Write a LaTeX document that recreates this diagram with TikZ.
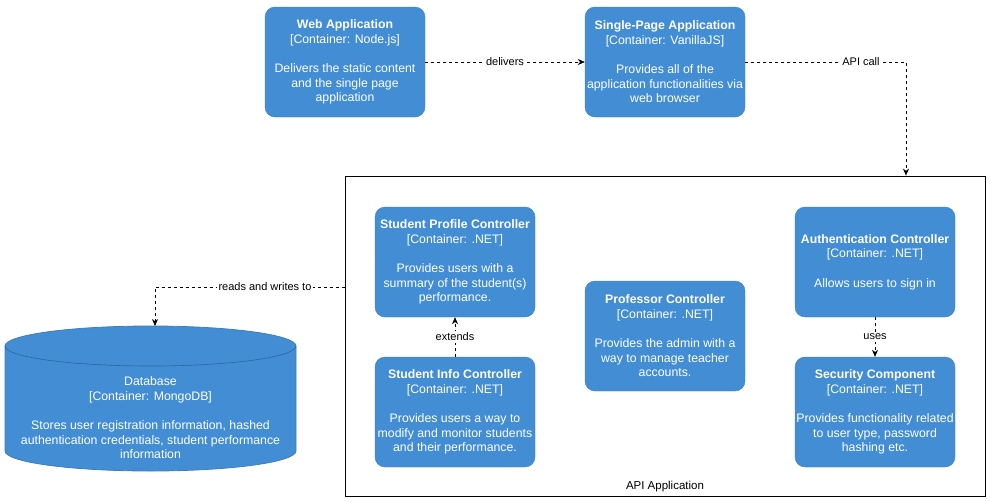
\documentclass[tikz,border=0pt]{standalone}
\usepackage{fontspec}
\setmainfont{Liberation Sans}
\usepackage{tikz}
\usetikzlibrary{arrows.meta}

\definecolor{c4blue}{HTML}{438DD5}
\definecolor{c4edge}{HTML}{3C7FC0}

\tikzset{
  cbox/.style={rectangle, rounded corners=10pt, fill=c4blue, draw=c4edge, text=white,
    align=center, minimum width=160pt, minimum height=110pt, inner sep=0pt,
    font=\fontsize{12.3}{14.6}\selectfont},
  rel/.style={black, line width=0.7pt, dash pattern=on 3pt off 3pt, -{Stealth[length=7pt,width=6pt]}},
  rellabel/.style={fill=white, inner sep=1.5pt, text=black, font=\fontsize{11}{13}\selectfont},
}

\begin{document}
\begin{tikzpicture}[x=1pt,y=-1pt]
\useasboundingbox (0,0) rectangle (990,501);

\node[draw=black, line width=0.8pt, minimum width=640pt, minimum height=320pt, inner sep=0pt] (api) at (665,336) {};
\node[above=1pt, font=\fontsize{11.5}{14}\selectfont] (apilabel) at (api.south) {API Application};

\node[cbox] (webapp) at (345,62) {\textbf{Web Application}\\{[Container: Node.js]}\\[14.6pt]Delivers the static content\\and the single page\\application};
\node[cbox] (spa) at (665,62) {\textbf{Single-Page Application}\\{[Container: VanillaJS]}\\[14.6pt]Provides all of the\\application functionalities via\\web browser};

\node[cbox] (profile) at (455,262) {\textbf{Student Profile Controller}\\{[Container: .NET]}\\[14.6pt]Provides users with a\\summary of the student(s)\\performance.};
\node[cbox] (info) at (455,412) {\textbf{Student Info Controller}\\{[Container: .NET]}\\[14.6pt]Provides users a way to\\modify and monitor students\\and their performance.};
\node[cbox] (professor) at (665,336) {\textbf{Professor Controller}\\{[Container: .NET]}\\[14.6pt]Provides the admin with a\\way to manage teacher\\accounts.};
\node[cbox] (auth) at (875,262) {\textbf{Authentication Controller}\\{[Container: .NET]}\\[14.6pt]Allows users to sign in};
\node[cbox] (security) at (875,412) {\textbf{Security Component}\\{[Container: .NET]}\\[14.6pt]Provides functionality related\\to user type, password\\hashing etc.};

\path[fill=c4blue, draw=c4edge, line width=0.8pt] (5,346) -- (5,451)
  arc[start angle=180, end angle=360, x radius=145.5pt, y radius=20pt] -- (296,346)
  arc[start angle=0, end angle=180, x radius=145.5pt, y radius=20pt] -- cycle;
\draw[c4edge!80!black, line width=0.6pt] (5,346) arc[start angle=180, end angle=360, x radius=145.5pt, y radius=20pt];
\node[align=center, text=white, font=\fontsize{12.3}{14.6}\selectfont] (database) at (150.5,418) {Database\\{[Container: MongoDB]}\\[14.6pt]Stores user registration information, hashed\\authentication credentials, student performance\\information};
\coordinate (dbtop) at (155,326);
\coordinate (apiin) at ([xshift=241pt]api.north);

\draw[rel] (webapp) -- node[rellabel]{delivers} (spa);
\draw[rel] (spa.east) -| node[rellabel, pos=0.36]{API call} (apiin);
\draw[rel] (info) -- node[rellabel]{extends} (profile);
\draw[rel] (auth) -- node[rellabel]{uses} (security);
\draw[rel] ([yshift=49pt]api.west) -| node[rellabel, pos=0.21]{reads and writes to} (dbtop);

\end{tikzpicture}
\end{document}
